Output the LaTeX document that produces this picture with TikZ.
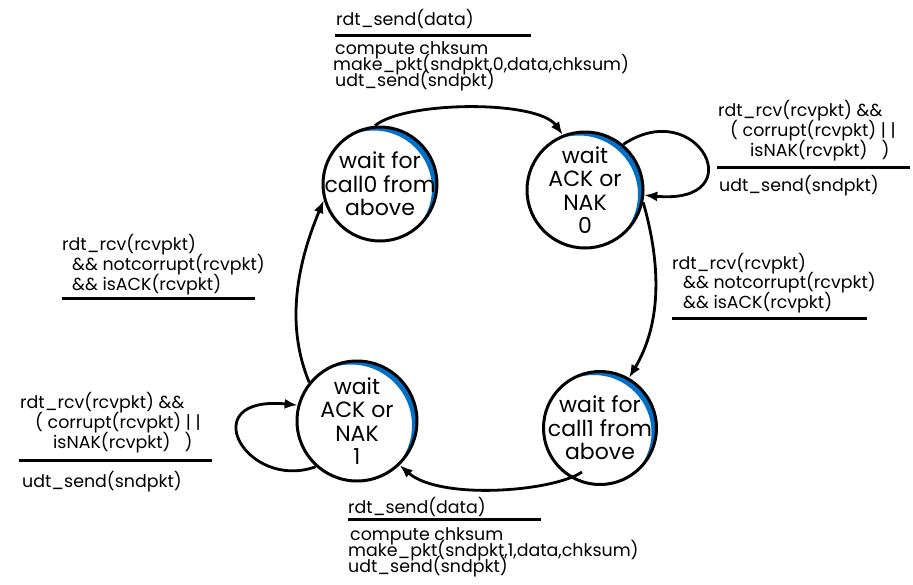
\documentclass[tikz,border=0pt]{standalone}
\usepackage{fontspec}
\setmainfont{Poppins}
\usetikzlibrary{arrows.meta}
\definecolor{crescentblue}{RGB}{0,112,200}
\begin{document}
\begin{tikzpicture}[x=1pt,y=-1pt,
  state/.style={circle, draw, line width=3pt, minimum size=#1pt, inner sep=0pt,
    path picture={\fill[crescentblue, even odd rule] (path picture bounding box.center) circle[radius=#1/2+3] ([shift={(-6,4.5)}]path picture bounding box.center) circle[radius=#1/2+1];}},
  statetext/.style={align=center, inner sep=0pt, font=\fontsize{22}{23.5}\selectfont},
  arr/.style={line width=2.8pt, -{Latex[length=13pt,width=10pt]}},
  lbl/.style={anchor=base west, inner sep=0pt, font=\fontsize{17.4}{16}\selectfont},
  uline/.style={line width=3pt}]
\fill[white] (0,0) rectangle (913,584);
\useasboundingbox (0,0) rectangle (913,584);

\node[state=114] (s0) at (380,184) {};
\node[statetext] (s0t) at (s0.center) {wait for\\call0 from\\above};
\node[state=116] (s1) at (585,190) {};
\node[statetext] (s1t) at (s1.center) {wait\\ACK or\\NAK\\0};
\node[state=113] (s2) at (600,428) {};
\node[statetext] (s2t) at (s2.center) {wait for\\call1 from\\above};
\node[state=120] (s3) at (357,421) {};
\node[statetext] (s3t) at (s3.center) {wait\\ACK or\\NAK\\1};

\draw[arr] (s0.95) .. controls +(30,-25) and +(-25,-35) .. (s1.112);
\draw[arr] (s1.50) .. controls +(75,-50) and +(110,10) .. (s1.-5);
\draw[arr] (s1.-12) .. controls +(20,70) and +(30,-50) .. (s2.60);
\coordinate (b0) at ([shift={(-18,44)}]s2.center);
\draw[arr] (b0) .. controls +(-30,20) and +(40,35) .. (s3.-46);
\draw[arr] (s3.-132) .. controls +(-70,25) and +(-105,-10) .. (s3.165);
\draw[arr] (s3.141) .. controls +(-25,-60) and +(-25,60) .. (s0.196);

% top label
\node[lbl] (ta) at (336,25) {rdt\_send(data)};
\draw[uline] (335,35) -- (531,35);
\node[lbl] (tb) at (335,54) {compute chksum};
\node[lbl] (tc) at (333,70) {make\_pkt(sndpkt,0,data,chksum)};
\node[lbl] (td) at (335,86) {udt\_send(sndpkt)};

% right self loop label
\node[lbl] (ra) at (718,116) {rdt\_rcv(rcvpkt) \&\&};
\node[lbl] (rb) at (730,136) {( corrupt(rcvpkt) | |};
\node[lbl] (rc) at (750,156) {isNAK(rcvpkt) \ \ )};
\draw[uline] (717,167) -- (910,167);
\node[lbl] (rd) at (719,191) {udt\_send(sndpkt)};

% right ACK label
\node[lbl] (ka) at (672,269) {rdt\_rcv(rcvpkt)};
\node[lbl] (kb) at (683,288) {\&\& notcorrupt(rcvpkt)};
\node[lbl] (kc) at (683,308) {\&\& isACK(rcvpkt)};
\draw[uline] (672,318) -- (867,318);

% left ACK label
\node[lbl] (la) at (62,250) {rdt\_rcv(rcvpkt)};
\node[lbl] (lb) at (72,270) {\&\& notcorrupt(rcvpkt)};
\node[lbl] (lc) at (72,290) {\&\& isACK(rcvpkt)};
\draw[uline] (62,298) -- (255,298);

% left self loop label
\node[lbl] (ma) at (20,408) {rdt\_rcv(rcvpkt) \&\&};
\node[lbl] (mb) at (35,428) {( corrupt(rcvpkt) | |};
\node[lbl] (mc) at (53,448) {isNAK(rcvpkt) \ \ )};
\draw[uline] (19,460) -- (212,460);
\node[lbl] (md) at (22,487) {udt\_send(sndpkt)};

% bottom label
\node[lbl] (ba) at (348,513) {rdt\_send(data)};
\draw[uline] (348,519) -- (541,519);
\node[lbl] (bb) at (350,540) {compute chksum};
\node[lbl] (bc) at (348,556) {make\_pkt(sndpkt,1,data,chksum)};
\node[lbl] (bd) at (348,572) {udt\_send(sndpkt)};
\end{tikzpicture}
\end{document}
